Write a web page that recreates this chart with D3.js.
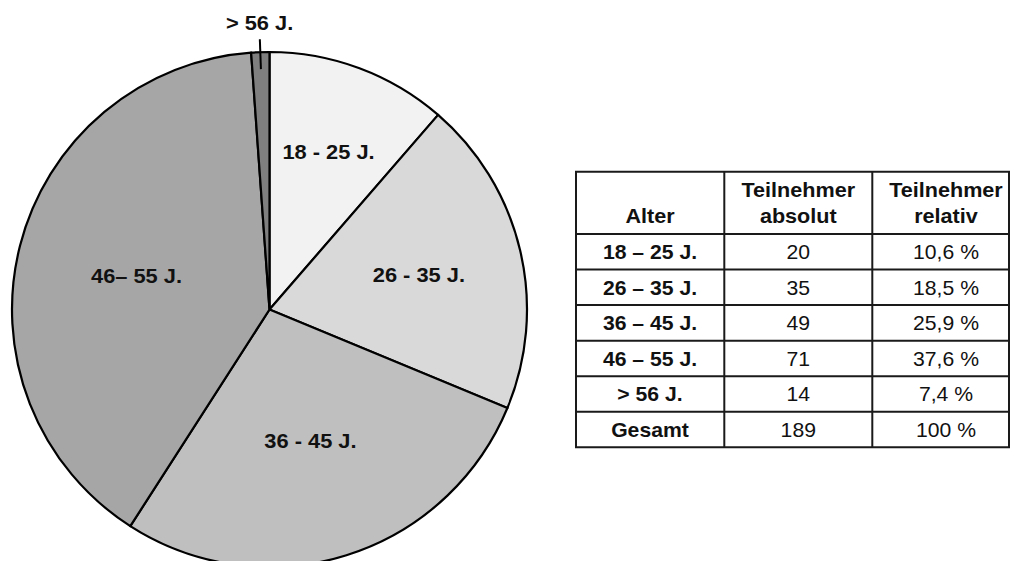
<!DOCTYPE html>
<html>
<head>
<meta charset="utf-8">
<script src="https://cdn.jsdelivr.net/npm/d3@7"></script>
<style>
  html, body { margin: 0; padding: 0; background: #fff; }
  svg { display: block; font-family: "Liberation Sans", Arial, Helvetica, sans-serif; }
</style>
</head>
<body>
<svg id="chart" width="1010" height="561"></svg>
<script>
// ---- data ----
const categories = ["18 – 25 J.", "26 – 35 J.", "36 – 45 J.", "46 – 55 J.", "> 56 J."];
const pieLabels = ["18 - 25 J.", "26 - 35 J.", "36 - 45 J.", "46– 55 J.", "> 56 J."];
const absoluteValues = [20, 35, 49, 71, 14];
const relativeValues = ["10,6 %", "18,5 %", "25,9 %", "37,6 %", "7,4 %"];
const totalLabel = "Gesamt";
const totalAbsolute = 189;
const totalRelative = "100 %";
// slice sizes as they are drawn in the picture
const pieShares = [20, 35, 49, 70, 2];
const headerLines = [["Alter"], ["Teilnehmer", "absolut"], ["Teilnehmer", "relativ"]];

// ---- layout ----
const cx = 269.5, cy = 309.5, R = 257.5;
const fills = ["#f2f2f2", "#d9d9d9", "#bfbfbf", "#a6a6a6", "#7f7f7f"];
const labelRadiusFrac = [0.656, 0.596, 0.532, 0.533];
const textColor = "#111";

const svg = d3.select("#chart");

// stretched text helper
function addText(parent, x, y, txt, opts) {
  const t = parent.append("text")
    .attr("transform", `translate(${x},${y}) scale(${opts.sx || 1},1)`)
    .attr("text-anchor", "middle")
    .attr("font-size", opts.size)
    .attr("font-weight", opts.weight || "normal")
    .attr("fill", textColor)
    .text(txt);
  if (opts.dy) t.attr("dy", opts.dy);
  return t;
}

// ---- pie ----
const pie = d3.pie().sort(null).value(d => d).startAngle(0).endAngle(2 * Math.PI);
const arcs = pie(pieShares);
const arc = d3.arc().innerRadius(0).outerRadius(R);

const g = svg.append("g").attr("transform", `translate(${cx},${cy})`);
g.selectAll("path.slice").data(arcs).enter().append("path")
  .attr("class", "slice")
  .attr("d", arc)
  .attr("fill", (d, i) => fills[i])
  .attr("stroke", "#000")
  .attr("stroke-width", 2.2)
  .attr("stroke-linejoin", "round");

function polar(angle, r) {
  return [Math.sin(angle) * r, -Math.cos(angle) * r];
}

arcs.forEach((d, i) => {
  const mid = (d.startAngle + d.endAngle) / 2;
  if (i < 4) {
    const [x, y] = polar(mid, R * labelRadiusFrac[i]);
    addText(g, x, y, pieLabels[i], { size: 21, weight: "bold", sx: 1.04, dy: "0.36em" });
  } else {
    const [x1, y1] = polar(mid, R - 17);
    const [x2, y2] = polar(mid, R + 13);
    g.append("line")
      .attr("x1", x1).attr("y1", y1).attr("x2", x2).attr("y2", y2)
      .attr("stroke", "#000").attr("stroke-width", 2);
    const [tx, ty] = polar(mid, R + 20.5);
    addText(g, tx, ty - 2, pieLabels[i], { size: 21, weight: "bold", sx: 1.04 });
  }
});

// ---- table ----
const rows = categories.map((c, i) => ({ label: c, abs: String(absoluteValues[i]), rel: relativeValues[i] }));
rows.push({ label: totalLabel, abs: String(totalAbsolute), rel: totalRelative });

const tLeft = 576, tRight = 1009, tTop = 171.7, headBottom = 234, tBottom = 447.3;
const colEdges = [tLeft, 724.3, 872.3, tRight];
const colCenters = [650, 798.3, 946];
const rowY = d3.scaleBand().domain(d3.range(rows.length)).range([headBottom, tBottom]);

const tg = svg.append("g");
const lineColor = "#1a1a1a";

const hLines = [tTop, headBottom].concat(d3.range(rows.length).map(i => rowY(i) + rowY.bandwidth()));
hLines.forEach(y => {
  tg.append("line").attr("x1", tLeft - 1).attr("x2", tRight + 1)
    .attr("y1", y).attr("y2", y)
    .attr("stroke", lineColor).attr("stroke-width", 2);
});
colEdges.forEach(x => {
  tg.append("line").attr("x1", x).attr("x2", x)
    .attr("y1", tTop).attr("y2", tBottom)
    .attr("stroke", lineColor).attr("stroke-width", 2);
});

headerLines.forEach((lines, ci) => {
  const n = lines.length;
  lines.forEach((t, li) => {
    addText(tg, colCenters[ci], 223.3 - (n - 1 - li) * 26.6, t, { size: 20, weight: "bold", sx: 1.08 });
  });
});

rows.forEach((r, i) => {
  const yc = rowY(i) + rowY.bandwidth() / 2;
  [r.label, r.abs, r.rel].forEach((t, ci) => {
    addText(tg, colCenters[ci], yc, t, { size: 20, weight: ci === 0 ? "bold" : "normal", sx: 1.06, dy: "0.36em" });
  });
});
</script>
</body>
</html>
